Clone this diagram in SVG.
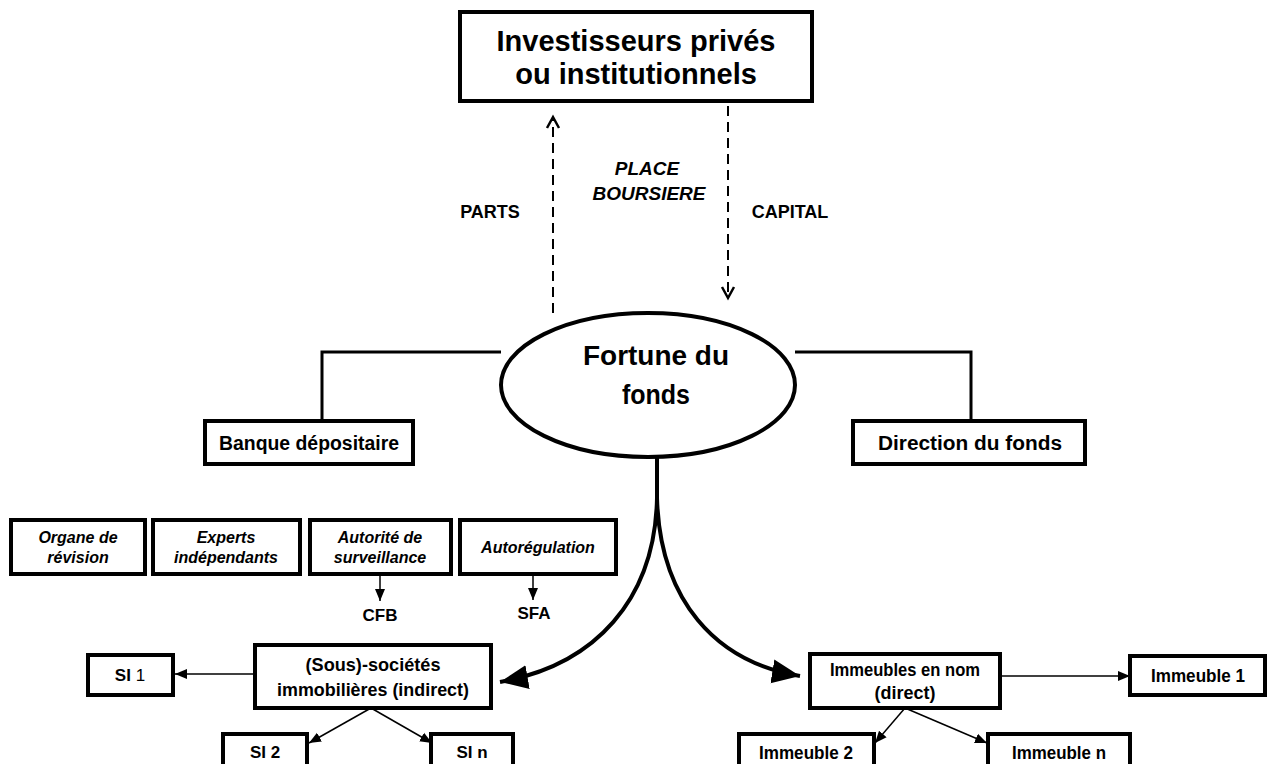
<svg xmlns="http://www.w3.org/2000/svg" width="1280" height="764" viewBox="0 0 1280 764">
<style>
.box{fill:#fff;stroke:#000;stroke-width:4}
.t{font-family:"Liberation Sans",Arial,sans-serif;font-weight:bold;fill:#000;text-anchor:middle}
.i{font-style:italic}
.ln{fill:none;stroke:#000}
</style>
<defs>
<marker id="open" markerUnits="userSpaceOnUse" markerWidth="18" markerHeight="18" refX="13" refY="9" orient="auto"><path d="M2,3 L13,9 L2,15" fill="none" stroke="#000" stroke-width="2.5"/></marker>
<marker id="big" markerUnits="userSpaceOnUse" markerWidth="32" markerHeight="32" refX="28" refY="16" orient="auto"><path d="M0,4 L28,16 L0,28 Z" fill="#000"/></marker>
<marker id="sm" markerUnits="userSpaceOnUse" markerWidth="14" markerHeight="14" refX="12" refY="7" orient="auto"><path d="M0,2 L12,7 L0,12 Z" fill="#000"/></marker>
</defs>
<g id="connectors">
<line class="ln" x1="553" y1="313" x2="553" y2="117" stroke-width="2" stroke-dasharray="10,6" marker-end="url(#open)"/>
<line class="ln" x1="728" y1="106" x2="728" y2="298" stroke-width="2" stroke-dasharray="10,6" marker-end="url(#open)"/>
<polyline class="ln" points="501,352 322,352 322,420" stroke-width="3"/>
<polyline class="ln" points="795,352 971,352 971,420" stroke-width="3"/>
<line class="ln" x1="657" y1="456" x2="657" y2="498" stroke-width="4"/>
<path class="ln" d="M657,498 C655,600 595,665 500,682" stroke-width="4" marker-end="url(#big)"/>
<path class="ln" d="M657,498 C660,600 715,662 800,676" stroke-width="4" marker-end="url(#big)"/>
<line class="ln" x1="380" y1="574" x2="380" y2="601" stroke-width="1.5" marker-end="url(#sm)"/>
<line class="ln" x1="533" y1="574" x2="533" y2="600" stroke-width="1.5" marker-end="url(#sm)"/>
<line class="ln" x1="254" y1="674" x2="175" y2="674" stroke-width="1.5" marker-end="url(#sm)"/>
<line class="ln" x1="371" y1="708" x2="309" y2="743" stroke-width="1.5" marker-end="url(#sm)"/>
<line class="ln" x1="371" y1="708" x2="432" y2="743" stroke-width="1.5" marker-end="url(#sm)"/>
<line class="ln" x1="1000" y1="676" x2="1130" y2="676" stroke-width="1.5" marker-end="url(#sm)"/>
<line class="ln" x1="905" y1="708" x2="875" y2="743" stroke-width="1.5" marker-end="url(#sm)"/>
<line class="ln" x1="905" y1="708" x2="987" y2="743" stroke-width="1.5" marker-end="url(#sm)"/>
</g>
<g id="investisseurs">
<rect class="box" x="460" y="12" width="352" height="89" stroke-width="5"/>
<text class="t" x="636" y="51" font-size="29">Investisseurs privés</text>
<text class="t" x="636" y="84" font-size="29">ou institutionnels</text>
</g>
<g id="labels">
<text class="t" x="490" y="218" font-size="18">PARTS</text>
<text class="t" x="790" y="218" font-size="18">CAPITAL</text>
<text class="t i" x="647" y="175" font-size="19">PLACE</text>
<text class="t i" x="649" y="200" font-size="19">BOURSIERE</text>
</g>
<g id="fortune">
<ellipse cx="648" cy="385" rx="147" ry="72" fill="#fff" stroke="#000" stroke-width="4"/>
<text class="t" x="656" y="365" font-size="28" textLength="146" lengthAdjust="spacingAndGlyphs">Fortune du</text>
<text class="t" x="656" y="404" font-size="28" textLength="68" lengthAdjust="spacingAndGlyphs">fonds</text>
</g>
<g id="banque">
<rect class="box" x="205" y="421" width="208" height="43" stroke-width="3"/>
<text class="t" x="309" y="450" font-size="20" textLength="180" lengthAdjust="spacingAndGlyphs">Banque dépositaire</text>
</g>
<g id="direction">
<rect class="box" x="853" y="421" width="232" height="43" stroke-width="3"/>
<text class="t" x="970" y="450" font-size="20" textLength="184" lengthAdjust="spacingAndGlyphs">Direction du fonds</text>
</g>
<g id="organe">
<rect class="box" x="11" y="520" width="134" height="54"/>
<text class="t i" x="78" y="543" font-size="16">Organe de</text>
<text class="t i" x="78" y="563" font-size="16">révision</text>
</g>
<g id="experts">
<rect class="box" x="153" y="520" width="147" height="54"/>
<text class="t i" x="226" y="543" font-size="16">Experts</text>
<text class="t i" x="226" y="563" font-size="16">indépendants</text>
</g>
<g id="autorite">
<rect class="box" x="310" y="520" width="141" height="54"/>
<text class="t i" x="380" y="543" font-size="16">Autorité de</text>
<text class="t i" x="380" y="563" font-size="16">surveillance</text>
</g>
<g id="autoregulation">
<rect class="box" x="460" y="520" width="156" height="54"/>
<text class="t i" x="538" y="553" font-size="16">Autorégulation</text>
</g>
<g id="cfb"><text class="t" x="380" y="621" font-size="17">CFB</text></g>
<g id="sfa"><text class="t" x="534" y="619" font-size="17">SFA</text></g>
<g id="sous">
<rect class="box" x="255" y="645" width="236" height="63" stroke-width="3"/>
<text class="t" x="373" y="671" font-size="18" textLength="135" lengthAdjust="spacingAndGlyphs">(Sous)-sociétés</text>
<text class="t" x="373" y="696" font-size="18" textLength="192" lengthAdjust="spacingAndGlyphs">immobilières (indirect)</text>
</g>
<g id="si1">
<rect class="box" x="88" y="655" width="85" height="40" stroke-width="3"/>
<text class="t" x="130" y="681" font-size="17">SI <tspan font-weight="normal">1</tspan></text>
</g>
<g id="si2">
<rect class="box" x="223" y="734" width="84" height="40" stroke-width="3"/>
<text class="t" x="265" y="758" font-size="17">SI 2</text>
</g>
<g id="sin">
<rect class="box" x="431" y="734" width="82" height="40" stroke-width="3"/>
<text class="t" x="472" y="758" font-size="17">SI n</text>
</g>
<g id="immeubles">
<rect class="box" x="810" y="654" width="190" height="54" stroke-width="3"/>
<text class="t" x="905" y="676" font-size="18" textLength="150" lengthAdjust="spacingAndGlyphs">Immeubles en nom</text>
<text class="t" x="905" y="699" font-size="18">(direct)</text>
</g>
<g id="imm1">
<rect class="box" x="1130" y="656" width="135" height="39" stroke-width="3"/>
<text class="t" x="1198" y="682" font-size="18" textLength="94" lengthAdjust="spacingAndGlyphs">Immeuble 1</text>
</g>
<g id="imm2">
<rect class="box" x="739" y="734" width="135" height="40" stroke-width="3"/>
<text class="t" x="806" y="759" font-size="18" textLength="94" lengthAdjust="spacingAndGlyphs">Immeuble 2</text>
</g>
<g id="immn">
<rect class="box" x="988" y="734" width="142" height="40" stroke-width="3"/>
<text class="t" x="1059" y="759" font-size="18" textLength="94" lengthAdjust="spacingAndGlyphs">Immeuble n</text>
</g>
</svg>
